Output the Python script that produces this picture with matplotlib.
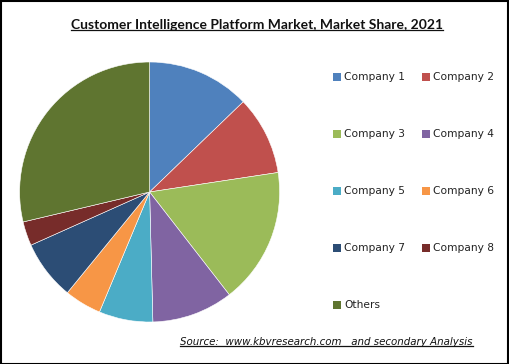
import matplotlib
matplotlib.use("Agg")
import matplotlib.pyplot as plt
from matplotlib.patches import Rectangle
from matplotlib.lines import Line2D

title = "Customer Intelligence Platform Market, Market Share, 2021"
source = "Source:  www.kbvresearch.com   and secondary Analysis"

labels = ["Company 1", "Company 2", "Company 3", "Company 4", "Company 5",
          "Company 6", "Company 7", "Company 8", "Others"]
shares = [12.8, 9.8, 16.9, 10.1, 6.7, 4.6, 7.4, 3.0, 28.7]
colors = ["#4F81BD", "#C0504D", "#9BBB59", "#8064A2", "#4BACC6",
          "#F79646", "#2C4D75", "#772C2A", "#5F7530"]

W, H = 509, 364
fig = plt.figure(figsize=(W / 100, H / 100), dpi=100, facecolor="white")

# pie axes: centre (149.6, 192) px from top-left, radius 130 px
cx, cy, r = 149.6, 192, 130
ax = fig.add_axes([(cx - r) / W, (H - cy - r) / H, 2 * r / W, 2 * r / H])
ax.pie(shares, colors=colors, startangle=90, counterclock=False,
       wedgeprops=dict(linewidth=0.4, edgecolor="white"))
ax.set_xlim(-1, 1)
ax.set_ylim(-1, 1)
ax.set_aspect("equal")
ax.axis("off")

# legend, two columns
col_x = [333, 422]
row_y = [77, 134, 191, 248, 305]
for i, (lab, col) in enumerate(zip(labels, colors)):
    x = col_x[i % 2]
    y = row_y[i // 2]
    fig.patches.append(Rectangle((x / W, (H - y - 4) / H), 8 / W, 8 / H,
                                 transform=fig.transFigure, facecolor=col,
                                 edgecolor="none"))
    fig.text((x + 11) / W, (H - y) / H, lab, fontsize=7.7, color="#222222",
             va="center", ha="left", family="DejaVu Sans")

t1 = fig.text(257 / W, (H - 25) / H, title, fontsize=9, fontweight="bold",
              ha="center", va="center", family="Lato", color="#111111")
t2 = fig.text(326.5 / W, (H - 342) / H, source, fontsize=8, style="italic",
              ha="center", va="center", family="DejaVu Sans", color="#111111")

# shrink / grow the texts to the widths seen in the reference
fig.canvas.draw()
rend = fig.canvas.get_renderer()
for t, target in [(t1, 370), (t2, 295)]:
    w = t.get_window_extent(rend).width
    t.set_fontsize(t.get_fontsize() * target / w)

# underline the two texts
fig.canvas.draw()
for t in (t1, t2):
    bb = t.get_window_extent(rend)
    yline = (bb.y0 + 1) / H
    fig.lines.append(Line2D([bb.x0 / W, bb.x1 / W], [yline, yline],
                            transform=fig.transFigure, color="#111111",
                            linewidth=0.9))

# outer frame
fig.patches.append(Rectangle((0.5 / W, 0.5 / H), (W - 1.5) / W, (H - 1.5) / H,
                             transform=fig.transFigure, fill=False,
                             edgecolor="black", linewidth=1.5))

fig.savefig("out.png", dpi=100)
